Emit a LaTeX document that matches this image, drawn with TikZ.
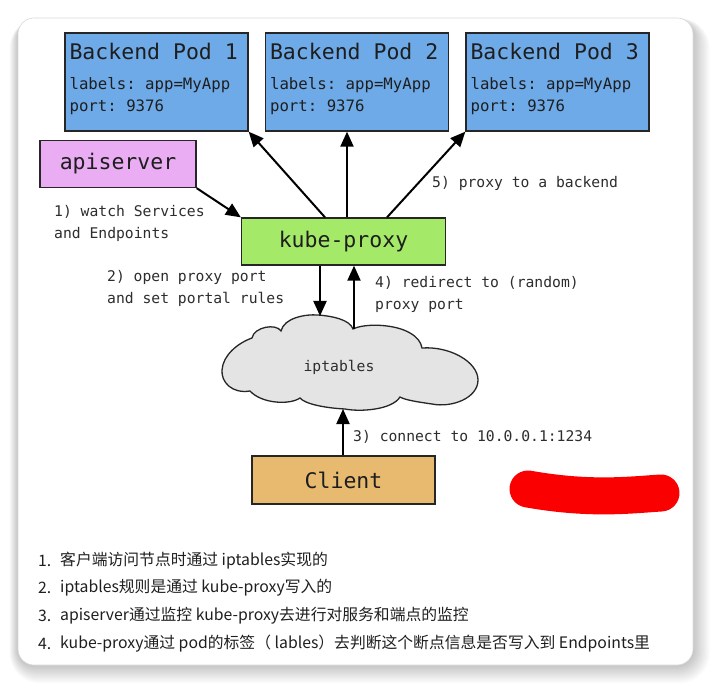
\documentclass[tikz,border=0pt]{standalone}
\usepackage{fontspec}
\setmonofont{DejaVu Sans Mono}
\newfontfamily\cjk{Noto Sans CJK SC}
\usetikzlibrary{arrows.meta,calc}
\definecolor{podblue}{RGB}{110,170,232}
\definecolor{apipink}{RGB}{234,172,242}
\definecolor{kpgreen}{RGB}{164,234,104}
\definecolor{clienttan}{RGB}{232,186,112}
\definecolor{cloudgray}{RGB}{228,228,228}
\definecolor{txt}{RGB}{30,30,30}
\definecolor{lbltxt}{RGB}{45,45,45}
\definecolor{redact}{RGB}{250,0,0}
\begin{document}
\begin{tikzpicture}[x=1pt,y=-1pt,
  box/.style={draw=black!85, line width=1.3pt, inner sep=0pt, anchor=center, text=txt},
  pod/.style={box, fill=podblue, minimum width=183pt, minimum height=98pt},
  bigtxt/.style={font=\fontsize{21.5}{24}\selectfont\ttfamily},
  podtitle/.style={font=\fontsize{21.5}{24}\selectfont\ttfamily, anchor=west, inner sep=0pt, text=txt},
  podline/.style={font=\fontsize{15.7}{18}\selectfont\ttfamily, anchor=west, inner sep=0pt, text=txt},
  arr/.style={line width=2pt, draw=black, -{Triangle[length=15pt,width=13pt]}},
  lbl/.style={font=\fontsize{14.7}{22}\selectfont\ttfamily, anchor=west, inner sep=0pt, align=left, text=lbltxt},
  item/.style={font=\fontsize{15.8}{18}\selectfont\cjk, anchor=west, inner sep=0pt, text=black!88},
  cloudline/.style={draw=black!85, line width=1.3pt, fill=cloudgray}
]
\useasboundingbox (0,0) rectangle (712,684);
\fill[white] (0,0) rectangle (712,684);
% card shadow (soft layers)
\foreach \i in {1,...,14}{
  \fill[black, opacity=0.016, rounded corners=16pt+\i pt]
    (18-\i*0.6,18-\i*0.2+3) rectangle (693+\i*1.2,665+\i*1.3);
}
% card
\node[draw=black!15, line width=0.6pt, fill=white, rounded corners=16pt,
  minimum width=675pt, minimum height=647pt, inner sep=0pt] (card) at (355.5,341.5) {};

% pods
\node[pod] (pod1) at (156.5,82) {};
\node[pod] (pod2) at (357,82) {};
\node[pod] (pod3) at (557.5,82) {};
\foreach \p/\n in {pod1/1,pod2/2,pod3/3}{
  \node[podtitle] (t\p) at ($(\p.north west)+(5,19)$) {Backend Pod \n};
  \node[podline] (l\p) at ($(\p.north west)+(5,53)$) {labels: app=MyApp};
  \node[podline] (q\p) at ($(\p.north west)+(5,75)$) {port: 9376};
}

% apiserver, kube-proxy, client
\node[box, fill=apipink, minimum width=156pt, minimum height=47pt, bigtxt] (api) at (118,164) {apiserver};
\node[box, fill=kpgreen, minimum width=204pt, minimum height=47pt, bigtxt] (kp) at (343.5,241.5) {kube-proxy};
\node[box, fill=clienttan, minimum width=183pt, minimum height=48pt, bigtxt] (client) at (343.5,480) {Client};

% cloud
\draw[cloudline] (252,338)
  .. controls (254,327) and (276,323) .. (281,331)
  .. controls (284,318) and (305,314) .. (318,315)
  .. controls (333,316) and (350,320) .. (353,329)
  .. controls (365,323) and (395,324) .. (410,333)
  .. controls (417,337) and (421,342) .. (422,348)
  .. controls (450,346) and (478,362) .. (478,380)
  .. controls (478,398) and (452,408) .. (432,404)
  .. controls (418,402) and (405,400) .. (400,397)
  .. controls (392,410) and (360,412) .. (345,409)
  .. controls (325,408) and (305,404) .. (300,398)
  .. controls (290,405) and (262,404) .. (250,391)
  .. controls (232,394) and (221,382) .. (222,370)
  .. controls (223,355) and (238,343) .. (252,338) -- cycle;
\node[font=\fontsize{14.7}{18}\selectfont\ttfamily, text=lbltxt, inner sep=0pt] (cloud) at (339,367) {iptables};
\coordinate (cloudtopA) at (320,316);
\coordinate (cloudtopB) at (354,329);
\coordinate (cloudbot) at (343,409);

% connectors
\draw[arr] (api.south east) -- (kp.north west);
\draw[arr] ($(kp.north)+(-18.5,0)$) -- (pod1.south east);
\draw[arr] ($(kp.north)+(3.5,0)$) -- ($(kp.north |- pod2.south)+(3.5,0)$);
\draw[arr] ($(kp.north)+(43.5,0)$) -- (pod3.south west);
\draw[arr] (kp.south -| cloudtopA) -- (cloudtopA);
\draw[arr] (cloudtopB) -- (kp.south -| cloudtopB);
\draw[arr] (client.north -| cloudbot) -- (cloudbot);

% labels
\node[lbl] (l1) at (54,223) {1) watch Services\\and Endpoints};
\node[lbl] (l2) at (107,288) {2) open proxy port\\and set portal rules};
\node[lbl] (l4) at (375,294) {4) redirect to (random)\\proxy port};
\node[lbl] (l5) at (432,183) {5) proxy to a backend};
\node[lbl] (l3) at (353,437) {3) connect to 10.0.0.1:1234};

% redaction scribble
\draw[redact, line width=37pt, line cap=round] (528,489) .. controls (590,500) and (630,495) .. (661,493);

% list
\node[item] (n1) at (38,561) {1.};
\node[item] (n2) at (38,588) {2.};
\node[item] (n3) at (38,616) {3.};
\node[item] (n4) at (38,644) {4.};
\node[item] (i1) at (60,561) {客户端访问节点时通过 iptables实现的};
\node[item] (i2) at (60,588) {iptables规则是通过 kube-proxy写入的};
\node[item] (i3) at (60,616) {apiserver通过监控 kube-proxy去进行对服务和端点的监控};
\node[item] (i4) at (60,644) {kube-proxy通过 pod的标签（ lables）去判断这个断点信息是否写入到 Endpoints里};
\end{tikzpicture}
\end{document}
